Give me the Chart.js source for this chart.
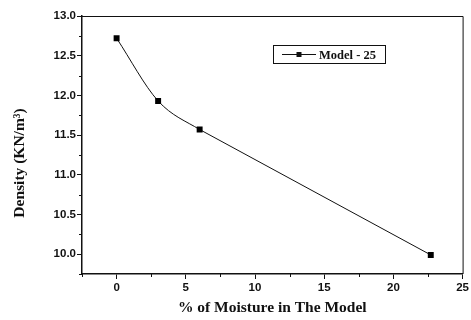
<!DOCTYPE html>
<html>
<head>
<meta charset="utf-8">
<script src="https://cdn.jsdelivr.net/npm/chart.js@4/dist/chart.umd.min.js"></script>
<style>
  html, body { margin: 0; padding: 0; background: #fff; }
  #wrap { width: 471px; height: 320px; }
</style>
</head>
<body>
<div id="wrap"><canvas id="c" width="471" height="320"></canvas></div>
<script>
// Moisture content (%) and measured density (KN/m³) for Model - 25
const moisture = [0, 3, 6, 22.7];
const density = [12.72, 11.93, 11.57, 9.99];
const seriesLabel = 'Model - 25';

// Axis ranges and tick steps
const xRange = [-2.5, 25];
const yRange = [9.75, 13.0];
const xMinorStep = 2.5, xMajorStep = 5;
const yMinorStep = 0.25, yMajorStep = 0.5;

const xTitle = '% of Moisture in The Model';
const yTitle = 'Density (KN/m\u00B3)';

const INK = '#111';
const tickFont = { family: 'Liberation Sans, Arial, sans-serif', size: 11.5, weight: 'bold' };
const titleFamily = 'Liberation Serif, Times New Roman, serif';

const points = moisture.map((x, i) => ({ x, y: density[i] }));
const isMajor = (v, step) => Math.abs(v / step - Math.round(v / step)) < 1e-6;

// Minor tick marks, top/right frame lines, y-axis title and the boxed legend
const decor = {
  id: 'decor',
  afterDraw(chart) {
    const { ctx, chartArea: a, scales: { x, y } } = chart;
    ctx.save();
    ctx.strokeStyle = INK;
    ctx.lineWidth = 1;
    ctx.beginPath();
    y.ticks.forEach(t => {
      if (isMajor(t.value, yMajorStep)) return;
      const py = Math.round(y.getPixelForValue(t.value)) + 0.5;
      ctx.moveTo(a.left - 3, py); ctx.lineTo(a.left, py);
    });
    x.ticks.forEach(t => {
      if (isMajor(t.value, xMajorStep)) return;
      const px = Math.round(x.getPixelForValue(t.value)) + 0.5;
      ctx.moveTo(px, a.bottom); ctx.lineTo(px, a.bottom + 3);
    });
    ctx.stroke();

    // frame: top and right edges
    ctx.beginPath();
    ctx.moveTo(a.left, a.top + 0.5); ctx.lineTo(a.right + 0.5, a.top + 0.5);
    ctx.lineTo(a.right + 0.5, a.bottom);
    ctx.stroke();

    // y-axis title
    ctx.save();
    ctx.translate(20, 163);
    ctx.rotate(-Math.PI / 2);
    ctx.fillStyle = INK;
    ctx.font = 'bold 15.5px ' + titleFamily;
    ctx.textAlign = 'center';
    ctx.textBaseline = 'middle';
    ctx.fillText(yTitle, 0, 0);
    ctx.restore();

    // legend
    const ds = chart.data.datasets[0];
    const lx = 273.5, ly = 45.5, lw = 112, lh = 18;
    ctx.fillStyle = '#fff';
    ctx.fillRect(lx, ly, lw, lh);
    ctx.strokeStyle = INK;
    ctx.strokeRect(lx, ly, lw, lh);
    const cy = ly + lh / 2;
    ctx.beginPath();
    ctx.moveTo(282, cy); ctx.lineTo(316, cy);
    ctx.stroke();
    ctx.fillStyle = INK;
    ctx.fillRect(296.5, cy - 2.5, 5, 5);
    ctx.font = 'bold 12.5px ' + titleFamily;
    ctx.textAlign = 'left';
    ctx.textBaseline = 'alphabetic';
    ctx.fillText(ds.label, 319, 59);
    ctx.restore();
  }
};

new Chart(document.getElementById('c'), {
  type: 'scatter',
  data: {
    datasets: [
      {
        label: seriesLabel,
        data: points,
        showLine: true,
        borderColor: INK,
        borderWidth: 1,
        cubicInterpolationMode: 'monotone',
        // the long final run is drawn straight by the dataset below
        segment: { borderColor: c => (c.p0DataIndex >= 2 ? 'rgba(0,0,0,0)' : INK) },
        pointStyle: 'rect',
        pointRadius: 4.2,
        pointBackgroundColor: '#000',
        pointBorderColor: '#000',
        pointBorderWidth: 0,
        order: 0
      },
      {
        label: 'tail',
        data: points.slice(2),
        showLine: true,
        borderColor: INK,
        borderWidth: 1,
        tension: 0,
        pointRadius: 0,
        order: 1
      }
    ]
  },
  options: {
    responsive: false,
    animation: false,
    events: [],
    layout: { padding: { top: 16, right: 6, left: 0, bottom: 0 } },
    plugins: { legend: { display: false }, tooltip: { enabled: false } },
    scales: {
      x: {
        type: 'linear',
        min: xRange[0], max: xRange[1],
        afterFit: s => { s.height = 46; },
        ticks: {
          stepSize: xMinorStep,
          padding: 2,
          color: INK,
          font: tickFont,
          maxRotation: 0,
          autoSkip: false,
          callback: v => (isMajor(v, xMajorStep) ? String(v) : '')
        },
        grid: {
          drawOnChartArea: false,
          tickLength: 5,
          tickWidth: 1,
          tickColor: c => (c.tick && isMajor(c.tick.value, xMajorStep) ? INK : 'rgba(0,0,0,0)')
        },
        border: { display: true, color: INK, width: 1.5 },
        title: {
          display: true,
          text: xTitle,
          color: INK,
          font: { family: titleFamily, size: 15.5, weight: 'bold', lineHeight: 1.2 },
          padding: { top: 0, bottom: 3 }
        }
      },
      y: {
        type: 'linear',
        min: yRange[0], max: yRange[1],
        afterFit: s => { s.width = 82; },
        ticks: {
          stepSize: yMinorStep,
          padding: 1,
          color: INK,
          font: tickFont,
          autoSkip: false,
          callback: v => (isMajor(v, yMajorStep) ? v.toFixed(1) : '')
        },
        grid: {
          drawOnChartArea: false,
          tickLength: 5,
          tickWidth: 1,
          tickColor: c => (c.tick && isMajor(c.tick.value, yMajorStep) ? INK : 'rgba(0,0,0,0)')
        },
        border: { display: true, color: INK, width: 1.5 },
        title: { display: false }
      }
    }
  },
  plugins: [decor]
});
</script>
</body>
</html>
